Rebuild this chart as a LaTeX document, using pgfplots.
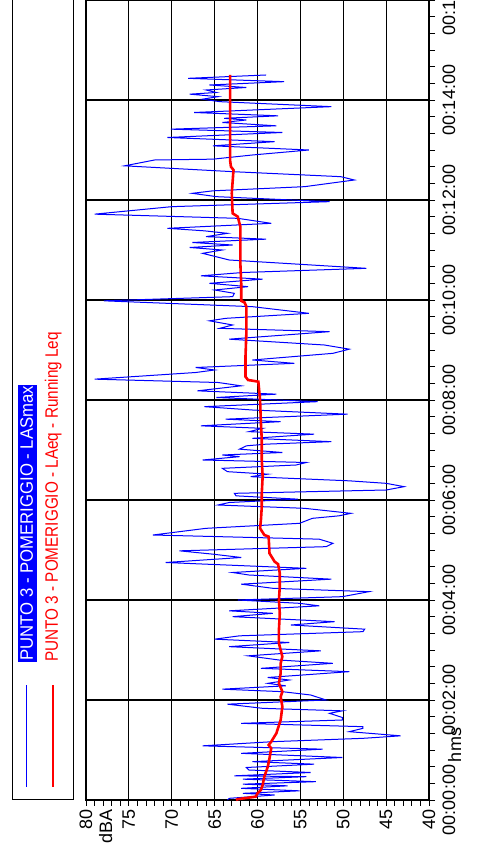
\documentclass[border=0pt]{standalone}
\usepackage{pgfplots}
\pgfplotsset{compat=1.18}
\usepackage{fontspec}
\setmainfont{Liberation Sans}
\pgfplotstableread{
t v
0 63.5
2 63.3
6 58.0
8 61.7
11 55.1
14 61.9
17 56.5
19 61.7
22 53.2
25 61.7
28 54.3
29 62.7
33 53.8
36 61.0
39 61.3
43 53.4
46 60.6
51 50.1
56 61.9
61 52.4
65 66.4
70 58.2
74 47.7
77 43.3
82 49.3
86 47.7
88 47.7
92 61.9
96 50.1
99 50.1
104 51.6
107 50.1
110 59.4
115 63.5
120 52.0
126 53.8
130 57.1
133 64.1
137 56.7
140 58.8
144 56.3
147 58.8
154 49.3
158 59.6
164 51.2
168 57.5
173 61.1
179 52.6
184 63.3
189 56.3
193 65.0
197 62.1
202 47.7
205 47.5
210 56.1
214 51.0
220 62.9
224 58.2
227 63.3
233 52.8
236 55.1
240 62.3
244 50.1
250 47.0
254 58.2
259 61.9
265 51.4
270 61.0
273 62.9
278 54.3
285 70.7
291 61.9
295 65.2
299 69.1
304 52.0
308 51.2
313 52.8
318 72.2
326 66.0
332 55.1
338 53.6
341 50.5
344 49.1
350 54.5
354 64.6
357 63.3
361 55.3
365 62.5
368 62.7
372 45.0
376 42.9
380 45.0
383 49.3
388 60.8
391 58.8
394 63.5
398 64.1
402 55.5
405 54.3
408 66.4
412 62.1
414 64.1
417 57.1
421 62.1
425 61.3
427 59.0
430 51.4
434 60.6
439 53.4
442 61.0
446 59.4
449 66.6
454 57.3
457 63.7
463 49.5
468 60.6
472 66.2
478 53.0
483 64.8
487 57.8
491 67.0
497 61.9
501 64.6
505 79.0
513 67.2
516 65.0
519 67.2
524 55.7
528 60.6
536 51.2
541 49.3
546 52.2
553 63.3
562 51.6
566 64.4
570 62.9
575 65.6
578 63.7
584 54.0
592 60.6
599 77.9
604 62.9
608 62.7
612 65.0
616 61.1
620 65.6
625 59.4
629 66.6
633 61.7
638 47.3
648 63.3
656 66.4
660 64.1
663 67.9
666 62.9
669 67.6
673 59.0
676 66.0
680 63.5
683 66.2
686 70.5
692 58.4
698 62.3
703 79.0
712 70.0
718 51.6
724 64.8
728 67.6
731 65.2
736 54.5
744 48.7
748 50.3
754 62.9
761 75.5
768 72.0
769 65.2
774 60.6
780 54.0
785 65.2
790 58.0
795 70.5
801 57.1
805 70.1
809 57.8
813 64.1
816 61.3
818 63.9
821 57.6
825 67.4
832 51.4
838 64.4
841 66.4
844 64.6
847 67.9
849 64.8
852 66.0
855 61.3
858 65.6
862 56.9
866 68.1
870 59.0
}\lasmax
\pgfplotstableread{
t v
0 62.5
1 62.3
4 60.2
8 60.0
12 59.6
18 59.4
28 59.2
40 58.8
50 58.6
62 58.4
66 58.7
70 58.4
80 57.8
96 57.3
112 57.1
124 57.3
130 57.1
140 57.5
152 57.3
164 57.3
172 57.1
188 57.5
204 57.5
224 57.4
240 57.5
256 57.4
272 57.4
283 57.6
286 58.0
296 58.6
316 58.7
318 59.2
326 59.7
336 59.6
352 59.5
368 59.5
388 59.4
408 59.5
432 59.5
452 59.6
480 59.7
502 59.9
504 61.1
508 61.4
532 61.4
560 61.3
592 61.3
597 61.5
599 61.9
620 61.9
644 62.0
660 62.0
688 62.0
700 62.3
704 62.9
728 63.0
756 62.8
760 63.1
768 63.2
808 63.2
848 63.2
870 63.2
}\laeq
\begin{document}
\begin{tikzpicture}
\useasboundingbox (-86pt,-45pt) rectangle (391pt,800pt);
% legend (rotated)
\draw[black, line width=1pt] (-73pt,0pt) rectangle (-13pt,802pt);
\draw[blue, line width=1pt] (-59pt,13pt) -- (-59pt,115pt);
\draw[red, line width=2.6pt] (-33pt,13pt) -- (-33pt,115pt);
\node[rotate=90, anchor=base west, fill=blue, text=white, inner xsep=1pt, inner ysep=0pt,
  text height=15pt, text depth=4pt, font=\fontsize{18pt}{20pt}\selectfont]
  at (-53pt,138pt) {\scalebox{0.93}[1]{PUNTO 3 - POMERIGGIO - LASmax}};
\node[rotate=90, anchor=base west, text=red, inner sep=0pt, font=\fontsize{18pt}{20pt}\selectfont]
  at (-28pt,138pt) {\scalebox{0.85}[1]{PUNTO 3 - POMERIGGIO - LAeq - Running Leq}};
\begin{axis}[
  at={(0pt,0pt)}, anchor=south west,
  scale only axis, width=343pt, height=800pt,
  xmin=40, xmax=80, x dir=reverse,
  ymin=0, ymax=960,
  axis line style={black, line width=1.3pt},
  grid=major, major grid style={black, line width=1.2pt},
  tick align=outside,
  major tick length=6pt, minor tick length=6pt,
  every tick/.style={black, line width=0.8pt},
  xtick={40,45,...,80}, minor x tick num=4,
  xticklabels={40,45,50,55,60,65,70,75,80},
  ytick={0,120,...,960}, minor y tick num=5,
  yticklabels={00:00:00,00:02:00,00:04:00,00:06:00,00:08:00,00:10:00,00:12:00,00:14:00,00:16:00},
  xtick pos=left, ytick pos=right, yticklabel pos=right,
  yticklabel shift=4pt,
  xticklabel style={rotate=90, anchor=east, font=\fontsize{18pt}{20pt}\selectfont},
  yticklabel style={rotate=90, anchor=north, font=\fontsize{18pt}{20pt}\selectfont},
  clip=false,
]
\addplot[blue, line width=1pt] table[x=v, y=t] {\lasmax};
\addplot[red, line width=2.6pt] table[x=v, y=t] {\laeq};
\end{axis}
\node[rotate=90, anchor=base east, inner sep=0pt, font=\fontsize{18pt}{20pt}\selectfont] at (26pt,-9pt) {dBA};
\node[rotate=90, anchor=base, inner sep=0pt, font=\fontsize{18pt}{20pt}\selectfont] at (375pt,55pt) {hms};
\end{tikzpicture}
\end{document}
